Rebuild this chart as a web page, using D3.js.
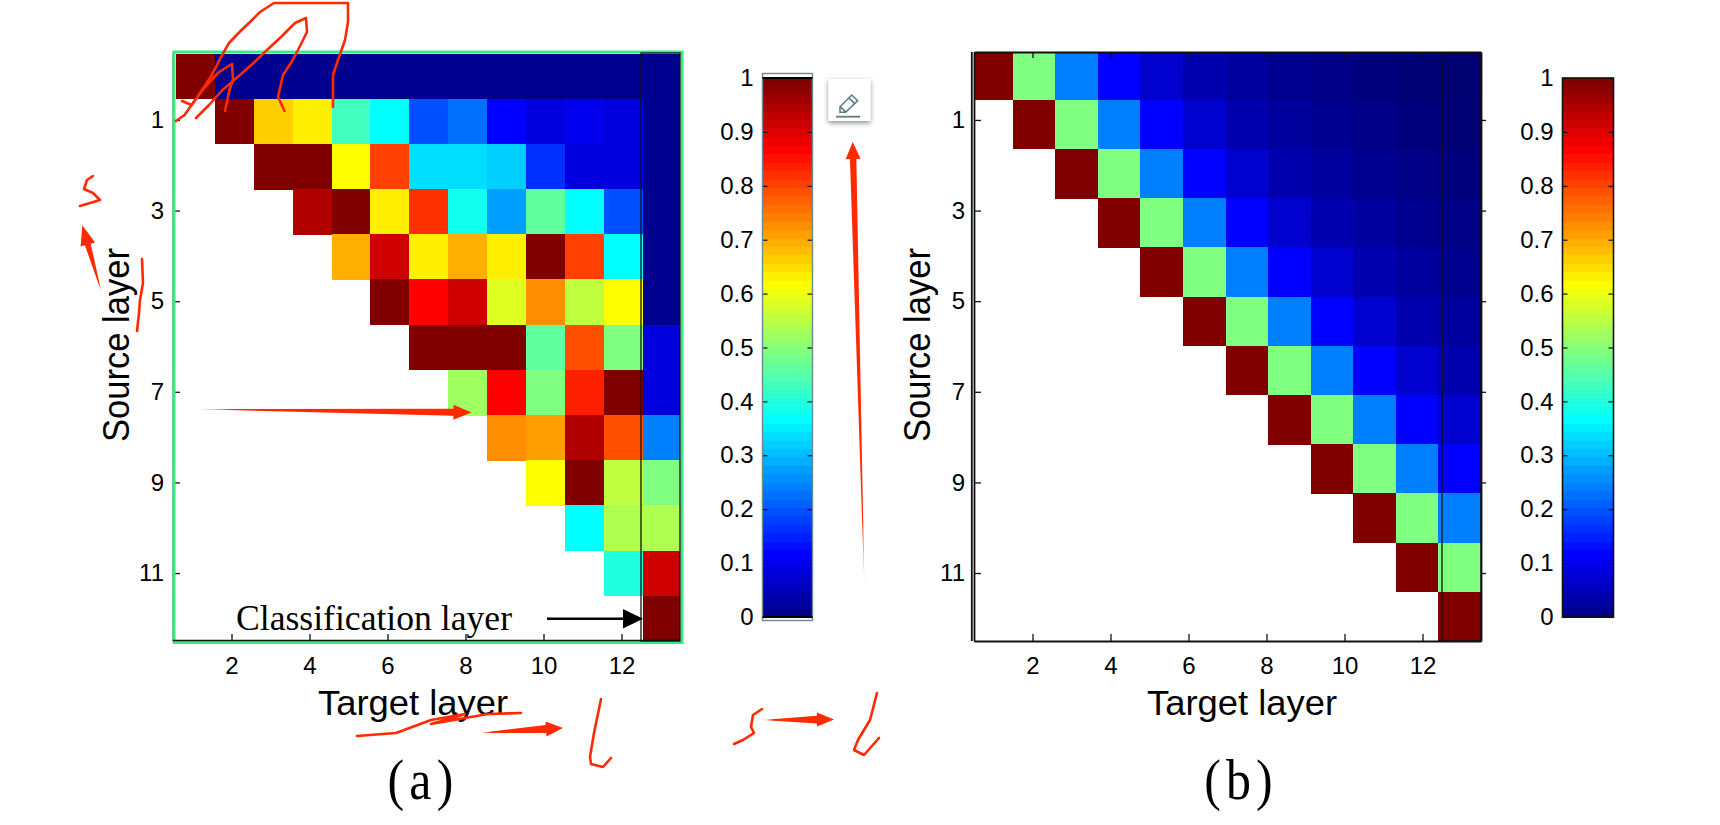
<!DOCTYPE html>
<html>
<head>
<meta charset="utf-8">
<style>
html,body{margin:0;padding:0;background:#fff;overflow:hidden}
svg{display:block}
text{fill:#000}
.sans{font-family:"Liberation Sans",Arial,sans-serif}
.serif{font-family:"Liberation Serif","Times New Roman",serif}
</style>
<script src="https://d3js.org/d3.v7.min.js"></script>
</head>
<body>
<script>
// ---------- data ----------
const _ = null;
const sourceTicks = [1, 3, 5, 7, 9, 11];
const targetTicks = [2, 4, 6, 8, 10, 12];
const colorbarTicks = [0, 0.1, 0.2, 0.3, 0.4, 0.5, 0.6, 0.7, 0.8, 0.9, 1];
const xTitle = "Target layer";
const yTitle = "Source layer";
const noteText = "Classification layer";

const matrixA = [
  [1,   .015,.015,.015,.015,.015,.015,.015,.015,.015,.015,.015,.015],
  [_,   1,   .67, .64, .43, .36, .195,.22, .125,.09, .10, .085,.015],
  [_,   _,   1,   1,   .625,.80, .34, .34, .32, .17, .09, .09, .015],
  [_,   _,   _,   .95, 1,   .64, .82, .39, .28, .46, .36, .195,.015],
  [_,   _,   _,   _,   .69, .91, .64, .69, .64, 1,   .80, .36, .015],
  [_,   _,   _,   _,   _,   1,   .875,.92, .59, .73, .56, .625,.015],
  [_,   _,   _,   _,   _,   _,   1,   1,   1,   .46, .79, .49, .08],
  [_,   _,   _,   _,   _,   _,   _,   .52, .86, .49, .84, 1,   .08],
  [_,   _,   _,   _,   _,   _,   _,   _,   .73, .71, .94, .79, .245],
  [_,   _,   _,   _,   _,   _,   _,   _,   _,   .61, 1,   .55, .50],
  [_,   _,   _,   _,   _,   _,   _,   _,   _,   _,   .375,.54, .54],
  [_,   _,   _,   _,   _,   _,   _,   _,   _,   _,   _,   .40, .92],
  [_,   _,   _,   _,   _,   _,   _,   _,   _,   _,   _,   _,   1]
];

const matrixB = [
  [1, .5, .25, .125, .07, .04, .025, .0155, .012, .007, .003, .001],
  [_, 1,  .5,  .25,  .125,.07, .04,  .025,  .0155,.012, .007, .003],
  [_, _,  1,   .5,   .25, .125,.07,  .04,   .025, .0155,.012, .007],
  [_, _,  _,   1,    .5,  .25, .125, .07,   .04,  .025, .0155,.012],
  [_, _,  _,   _,    1,   .5,  .25,  .125,  .07,  .04,  .025, .0155],
  [_, _,  _,   _,    _,   1,   .5,   .25,   .125, .07,  .04,  .025],
  [_, _,  _,   _,    _,   _,   1,    .5,    .25,  .125, .07,  .04],
  [_, _,  _,   _,    _,   _,   _,    1,     .5,   .25,  .125, .07],
  [_, _,  _,   _,    _,   _,   _,    _,     1,    .5,   .25,  .125],
  [_, _,  _,   _,    _,   _,   _,    _,     _,    1,    .5,   .25],
  [_, _,  _,   _,    _,   _,   _,    _,     _,    _,    1,    .5],
  [_, _,  _,   _,    _,   _,   _,    _,     _,    _,    _,    1]
];

// ---------- colour: MATLAB jet with 64 levels ----------
const LEVELS = 64;
const jetStops = [0, 1/64, 8/64, 24/64, 40/64, 56/64, 1];
const jetColors = ["#00006e", "#00008f", "#0000ff", "#00ffff", "#ffff00", "#ff0000", "#800000"];
const jet = d3.scaleLinear().domain(jetStops).range(jetColors).interpolate(d3.interpolateRgb);
const color = v => jet(v < 1 / LEVELS ? v : Math.ceil(v * LEVELS) / LEVELS);

const W = 1720, H = 825;
const svg = d3.select("body").append("svg").attr("width", W).attr("height", H);
const defs = svg.append("defs");

function panel(cfg) {
  const g = svg.append("g");
  const n = cfg.matrix.length;
  const x = d3.scaleLinear().domain([0.5, 13.5]).range([cfg.left, cfg.right]);
  const y = d3.scaleLinear().domain([-0.5, 12.5]).range([cfg.top, cfg.bottom]);
  const cx = d3.scaleBand().domain(d3.range(n)).range(cfg.cellX);
  const cy = d3.scaleBand().domain(d3.range(n)).range(cfg.cellY);

  defs.append("clipPath").attr("id", cfg.id)
    .append("rect").attr("x", cfg.left).attr("y", cfg.top)
    .attr("width", cfg.right - cfg.left).attr("height", cfg.bottom - cfg.top);

  const cells = cfg.matrix.flatMap((row, r) => row.map((v, c) => ({r, c, v}))).filter(d => d.v !== null);
  g.append("g").attr("clip-path", `url(#${cfg.id})`)
    .attr("shape-rendering", "crispEdges")
    .selectAll("rect").data(cells).join("rect")
    .attr("x", d => cx(d.c)).attr("y", d => cy(d.r))
    .attr("width", cx.bandwidth() + 0.5).attr("height", cy.bandwidth() + 0.5)
    .attr("fill", d => color(d.v));

  const style = sel => {
    sel.selectAll("text").attr("class", "sans").style("font-size", "24px").attr("fill", "#000");
    sel.selectAll("line").attr("stroke", "#111").attr("stroke-width", 1.3);
    sel.select(".domain").attr("stroke", "#111").attr("stroke-width", 1.8);
  };

  g.append("g").attr("transform", `translate(0,${cfg.bottom})`)
    .call(d3.axisBottom(x).tickValues(targetTicks).tickSize(-7).tickPadding(16).tickSizeOuter(0))
    .call(style);
  g.append("g").attr("transform", `translate(${cfg.left},0)`)
    .call(d3.axisLeft(y).tickValues(sourceTicks).tickSize(-7).tickPadding(9).tickSizeOuter(0))
    .call(style);
  if (cfg.box) {
    g.append("g").attr("transform", `translate(0,${cfg.top})`)
      .call(d3.axisTop(x).tickValues(targetTicks).tickSize(-6).tickFormat("").tickSizeOuter(0))
      .call(style);
    g.append("g").attr("transform", `translate(${cfg.right},0)`)
      .call(d3.axisRight(y).tickValues(sourceTicks).tickSize(5).tickFormat("").tickSizeOuter(0))
      .call(style);
  }

  if (cfg.frame) {
    g.append("rect").attr("x", cfg.frame[0]).attr("y", cfg.frame[1])
      .attr("width", cfg.frame[2] - cfg.frame[0]).attr("height", cfg.frame[3] - cfg.frame[1])
      .attr("fill", "none").attr("stroke", "#33ee80").attr("stroke-width", 3);
    g.append("line").attr("x1", cfg.left).attr("x2", cfg.right)
      .attr("y1", cfg.bottom - 0.5).attr("y2", cfg.bottom - 0.5)
      .attr("stroke", "#111").attr("stroke-width", 1.6);
  }

  // box around the classification-layer column
  g.append("rect").attr("x", x(12.5)).attr("y", cfg.top + 1)
    .attr("width", x(13.5) - x(12.5)).attr("height", cfg.bottom - cfg.top - 1)
    .attr("fill", "none").attr("stroke", "#111").attr("stroke-width", 1.3);

  g.append("text").attr("class", "sans").attr("x", cfg.xTitleX).attr("y", 715)
    .attr("text-anchor", "middle").style("font-size", "35px")
    .attr("textLength", 190).attr("lengthAdjust", "spacingAndGlyphs").text(xTitle);
  g.append("text").attr("class", "sans")
    .attr("transform", `translate(${cfg.left - 44},345) rotate(-90)`)
    .attr("text-anchor", "middle").style("font-size", "36px")
    .attr("textLength", 194).attr("lengthAdjust", "spacingAndGlyphs").text(yTitle);
  g.append("text").attr("class", "serif")
    .attr("transform", `translate(${cfg.labelX},799) scale(0.86,1)`)
    .attr("text-anchor", "middle").style("font-size", "58px").style("letter-spacing", "6px")
    .text(cfg.label);
}

function colorbar(cfg) {
  const g = svg.append("g");
  const y = d3.scaleLinear().domain([0, 1]).range([cfg.bottom, cfg.top]);
  const levels = d3.range(1, LEVELS + 1);
  const band = (cfg.bottom - cfg.top) / LEVELS;
  g.append("g").attr("shape-rendering", "crispEdges")
    .selectAll("rect").data(levels).join("rect")
    .attr("x", cfg.left).attr("width", cfg.right - cfg.left)
    .attr("y", d => y(d / LEVELS)).attr("height", band + 0.5)
    .attr("fill", d => jet(d / LEVELS));
  const ax = g.append("g").attr("transform", `translate(${cfg.left},0)`)
    .call(d3.axisLeft(y).tickValues(colorbarTicks).tickFormat(d3.format("")).tickSize(-5).tickPadding(9).tickSizeOuter(0));
  ax.selectAll("text").attr("class", "sans").style("font-size", "24px").attr("fill", "#000");
  ax.selectAll("line").attr("stroke", "#111").attr("stroke-width", 1.2);
  ax.select(".domain").remove();
  const ax2 = g.append("g").attr("transform", `translate(${cfg.right},0)`)
    .call(d3.axisRight(y).tickValues(colorbarTicks).tickFormat("").tickSize(-5).tickSizeOuter(0));
  ax2.selectAll("line").attr("stroke", "#111").attr("stroke-width", 1.2);
  ax2.select(".domain").remove();
  if (cfg.outline) {
    g.append("rect").attr("x", cfg.left).attr("y", cfg.outline[0])
      .attr("width", cfg.right - cfg.left).attr("height", cfg.outline[1] - cfg.outline[0])
      .attr("fill", "none").attr("stroke", "#6a8a92").attr("stroke-width", 1.4);
    [cfg.top, cfg.bottom].forEach(v => g.append("line")
      .attr("x1", cfg.left).attr("x2", cfg.right).attr("y1", v).attr("y2", v)
      .attr("stroke", "#000").attr("stroke-width", 2));
  } else {
    g.append("rect").attr("x", cfg.left).attr("y", cfg.top)
      .attr("width", cfg.right - cfg.left).attr("height", cfg.bottom - cfg.top)
      .attr("fill", "none").attr("stroke", "#111").attr("stroke-width", 1.6);
  }
}

panel({
  id: "clipA", matrix: matrixA, left: 173, right: 680, top: 52, bottom: 641,
  cellX: [175.9, 681.6], cellY: [53.5, 641],
  frame: [174, 52, 682, 642.5], box: false,
  xTitleX: 413, label: "(a)", labelX: 423
});
panel({
  id: "clipB", matrix: matrixB, left: 974, right: 1481, top: 52, bottom: 641,
  cellX: [970, 1481], cellY: [50.5, 641],
  box: true,
  xTitleX: 1242, label: "(b)", labelX: 1241
});
// double line on the left of panel b
svg.append("line").attr("x1", 971.8).attr("x2", 971.8).attr("y1", 52).attr("y2", 641)
  .attr("stroke", "#111").attr("stroke-width", 1.8);

colorbar({left: 762.5, right: 812.5, top: 78, bottom: 617, outline: [73.5, 620.5]});
colorbar({left: 1562.5, right: 1613.5, top: 78, bottom: 617});

// ---------- "Classification layer" note ----------
svg.append("text").attr("class", "serif").attr("x", 236).attr("y", 630)
  .style("font-size", "36px").attr("textLength", 276).attr("lengthAdjust", "spacingAndGlyphs")
  .text(noteText);
svg.append("line").attr("x1", 547).attr("x2", 625).attr("y1", 618.7).attr("y2", 618.7)
  .attr("stroke", "#000").attr("stroke-width", 2.4);
svg.append("path").attr("d", "M623,609 L643,618.7 L623,628.5 Z").attr("fill", "#000");

// ---------- hand-drawn red annotations over the picture ----------
const RED = "#ff2a00";
const line = d3.line();
const scribbles = [
  // over the top-left corner
  [[176,121],[184.5,115],[193,103],[202,90],[210,78],[215.5,68],[221,57],[229,43],[241.5,30],[250,22],[260,12],[274,3],[348,3],[348,22],[345,40],[338,60],[333,75],[333,93],[333,107]],
  [[196,118],[209,105],[222.5,90],[240,75],[253.5,63],[267,50],[281,37],[295,23],[306,18],[307,32],[298,50],[291.5,62],[283,75],[278,97],[284.5,111]],
  [[182,101],[191.5,105],[205,87],[219,72],[232,64],[233,80],[229.5,90],[225,111]],
  // left of the y title
  [[93,176],[87,180],[84,189],[93,193],[100,200],[90,203],[80,206]],
  [[142,259],[143,283],[140,300],[139,313],[137,331]],
  // under the x title
  [[357,736],[396,733],[431,720],[465,714],[459,716],[431,724],[488,714],[521,713]],
  [[601,699],[594,733],[590,757],[591,764],[603,767],[611,758]],
  [[762,709],[753,715],[751,727],[754,733],[743,740],[734,744]],
  [[877,693],[870,720],[858,740],[854,750],[864,755],[879,738]]
];
svg.append("g").selectAll("path").data(scribbles).join("path")
  .attr("d", d => line(d)).attr("fill", "none").attr("stroke", RED)
  .attr("stroke-width", 2.6).attr("stroke-linecap", "round").attr("stroke-linejoin", "round");

const arrows = [
  // tail, tip, half-shaft width, half-head width, head length
  {tail: [191, 409], tip: [471.5, 412.5], shaft: 3.5, head: 7.5, len: 18},
  {tail: [864.5, 592], tip: [852.7, 142], shaft: 3.2, head: 7.5, len: 17},
  {tail: [101.7, 293], tip: [82.3, 225.3], shaft: 3, head: 7.5, len: 20},
  {tail: [479, 733], tip: [563, 728], shaft: 4, head: 7.5, len: 17},
  {tail: [761, 720], tip: [834, 719.5], shaft: 3.8, head: 7, len: 17}
];
arrows.forEach((a, i) => {
  const dx = a.tip[0] - a.tail[0], dy = a.tip[1] - a.tail[1];
  const L = Math.hypot(dx, dy), ux = dx / L, uy = dy / L, nx = -uy, ny = ux;
  const bx = a.tip[0] - ux * a.len, by = a.tip[1] - uy * a.len;
  const grad = defs.append("linearGradient").attr("id", "fade" + i)
    .attr("gradientUnits", "userSpaceOnUse")
    .attr("x1", a.tail[0]).attr("y1", a.tail[1]).attr("x2", a.tip[0]).attr("y2", a.tip[1]);
  grad.append("stop").attr("offset", 0).attr("stop-color", RED).attr("stop-opacity", 0);
  grad.append("stop").attr("offset", 0.15).attr("stop-color", RED).attr("stop-opacity", 1);
  grad.append("stop").attr("offset", 1).attr("stop-color", RED).attr("stop-opacity", 1);
  const pts = [a.tail,
    [bx + nx * a.shaft, by + ny * a.shaft], [bx + nx * a.head, by + ny * a.head],
    a.tip,
    [bx - nx * a.head, by - ny * a.head], [bx - nx * a.shaft, by - ny * a.shaft]];
  svg.append("polygon").attr("points", pts.map(p => p.join(",")).join(" ")).attr("fill", `url(#fade${i})`);
});

// ---------- pencil button ----------
const shadow = defs.append("filter").attr("id", "btnShadow")
  .attr("x", "-30%").attr("y", "-30%").attr("width", "160%").attr("height", "160%");
shadow.append("feDropShadow").attr("dx", 0).attr("dy", 2).attr("stdDeviation", 2.5)
  .attr("flood-color", "#000").attr("flood-opacity", 0.45);
const btn = svg.append("g");
btn.append("rect").attr("x", 828.3).attr("y", 79).attr("width", 42).attr("height", 42)
  .attr("fill", "#fff").attr("filter", "url(#btnShadow)");
btn.append("path").attr("d", "M840,106.7 L851.7,95 L857.7,100.7 L845.7,112.3 L840,112.3 Z M848.8,97.9 L854.8,103.6 M840.2,106.5 L845.9,112.1")
  .attr("fill", "none").attr("stroke", "#5f7d85").attr("stroke-width", 1.6);
btn.append("line").attr("x1", 836).attr("x2", 860).attr("y1", 116.7).attr("y2", 116.7)
  .attr("stroke", "#5f7d85").attr("stroke-width", 1.8);
</script>
</body>
</html>
